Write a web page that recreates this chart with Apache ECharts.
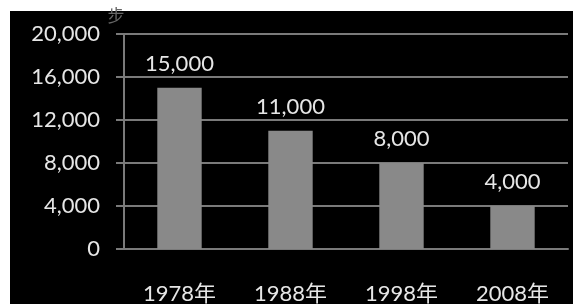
<!DOCTYPE html>
<html>
<head>
<meta charset="utf-8">
<script src="https://cdn.jsdelivr.net/npm/echarts@6/dist/echarts.min.js"></script>
<style>
  html, body { margin: 0; padding: 0; background: #fff; }
  #chart { width: 573px; height: 304px; }
</style>
</head>
<body>
<div id="chart"></div>
<script>
// 年份与步数
var years = ['1978年', '1988年', '1998年', '2008年']
var steps = [15000, 11000, 8000, 4000]
var yMin = 0
var yMax = 20000
var yStep = 4000

var fmt = function (v) { return Number(v).toLocaleString('en-US') }
var font = 'Lato, "Noto Sans CJK SC", sans-serif'

var chart = echarts.init(document.getElementById('chart'))
chart.setOption({
  animation: false,
  backgroundColor: '#fff',
  // 黑色底板
  graphic: [{
    type: 'rect',
    z: -10,
    shape: { x: 10, y: 11, width: 563, height: 293 },
    style: { fill: '#000' }
  }],
  grid: { left: 124, right: 5, top: 34, bottom: 55, outerBoundsMode: 'none' },
  xAxis: {
    type: 'category',
    data: years,
    axisLine: { lineStyle: { color: '#7a7a7a', width: 2 } },
    axisTick: { length: 9, lineStyle: { color: '#7a7a7a', width: 2 } },
    axisLabel: { margin: 34, color: '#e6e6e6', fontSize: 22, fontFamily: font }
  },
  yAxis: {
    type: 'value',
    min: yMin,
    max: yMax,
    interval: yStep,
    name: '步',
    nameGap: 9,
    nameTextStyle: { color: '#666666', fontSize: 17, fontFamily: font, padding: [0, 16, 0, 0] },
    axisLine: { show: true, lineStyle: { color: '#7a7a7a', width: 2 } },
    axisTick: { show: true, length: 8, lineStyle: { color: '#7a7a7a', width: 2 } },
    splitLine: { lineStyle: { color: '#7a7a7a', width: 2 } },
    axisLabel: { margin: 24, color: '#e6e6e6', fontSize: 22, fontFamily: font, formatter: fmt }
  },
  series: [{
    type: 'bar',
    data: steps,
    barWidth: '40%',
    itemStyle: { color: '#898989' },
    label: {
      show: true,
      position: 'top',
      distance: 13,
      color: '#e6e6e6',
      fontSize: 22,
      fontFamily: font,
      formatter: function (p) { return fmt(p.value) }
    }
  }]
})
</script>
</body>
</html>
